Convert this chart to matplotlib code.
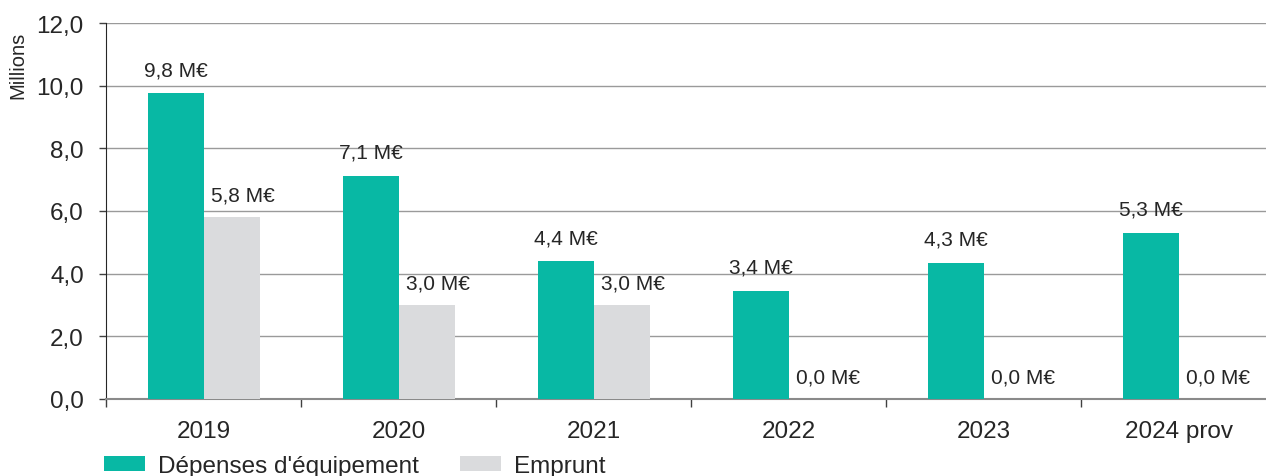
import matplotlib
matplotlib.use("Agg")
import matplotlib.pyplot as plt
import numpy as np

# data
annees = ["2019", "2020", "2021", "2022", "2023", "2024 prov"]
depenses = [9.76, 7.13, 4.40, 3.45, 4.34, 5.30]
emprunt = [5.80, 3.00, 3.00, 0.0, 0.0, 0.0]
depenses_lbl = ["9,8", "7,1", "4,4", "3,4", "4,3", "5,3"]
emprunt_lbl = ["5,8", "3,0", "3,0", "0,0", "0,0", "0,0"]
yticks = [0, 2, 4, 6, 8, 10, 12]

TEAL = "#08B8A4"
GREY = "#DADBDD"
TXT = "#262626"

plt.rcParams["font.family"] = ["Liberation Sans", "DejaVu Sans"]

fig = plt.figure(figsize=(12.66, 4.77), dpi=100)
ax = fig.add_axes([106 / 1266, 77 / 477, 1170.5 / 1266, 376 / 477])

x = np.arange(len(annees))
w = 0.287
b1 = ax.bar(x - w / 2, depenses, w, color=TEAL, label="Dépenses d'équipement", zorder=3)
b2 = ax.bar(x + w / 2, emprunt, w, color=GREY, label="Emprunt", zorder=3)

for r, t in zip(b1, depenses_lbl):
    ax.annotate(t + " M€", (r.get_x() + r.get_width() / 2, r.get_height()),
                xytext=(0, 17), textcoords="offset points",
                ha="center", va="center", fontsize=15, color=TXT)
for r, t in zip(b2, emprunt_lbl):
    ax.annotate(t + " M€", (r.get_x() + r.get_width() / 2, r.get_height()),
                xytext=(8, 16), textcoords="offset points",
                ha="center", va="center", fontsize=15, color=TXT)

ax.set_xlim(-0.5, len(annees) - 0.5)
ax.set_ylim(0, 12)
ax.set_yticks(yticks)
ax.set_yticklabels([f"{v:.1f}".replace(".", ",") for v in yticks])
ax.yaxis.grid(True, color="#9A9A9A", linewidth=1)
ax.set_axisbelow(True)

ax.set_xticks(x)
ax.set_xticklabels(annees)
ax.set_xticks(np.arange(len(annees) + 1) - 0.5, minor=True)
ax.tick_params(axis="x", which="major", length=0, pad=15, labelsize=17.5, colors=TXT)
ax.tick_params(axis="x", which="minor", length=6, width=1, color="#404040")
ax.tick_params(axis="y", length=5, width=1, color="#404040", pad=11, labelsize=17.5, labelcolor=TXT)

for s in ["top", "right"]:
    ax.spines[s].set_visible(False)
ax.spines["left"].set_color("#262626")
ax.spines["bottom"].set_color("#8A8A8A")
ax.spines["bottom"].set_linewidth(1.5)

fig.text(18 / 1266, 1 - 65 / 477, "Millions", rotation=90, ha="center", va="center",
         fontsize=14.5, color=TXT)

fig.legend(loc="center left", bbox_to_anchor=(104 / 1266, 10 / 477), ncol=2,
           frameon=False, fontsize=17.5, borderpad=0, borderaxespad=0,
           handlelength=1.69, handleheight=0.53, handletextpad=0.53,
           columnspacing=1.7, labelcolor=TXT)

fig.savefig("out.png", dpi=100)
